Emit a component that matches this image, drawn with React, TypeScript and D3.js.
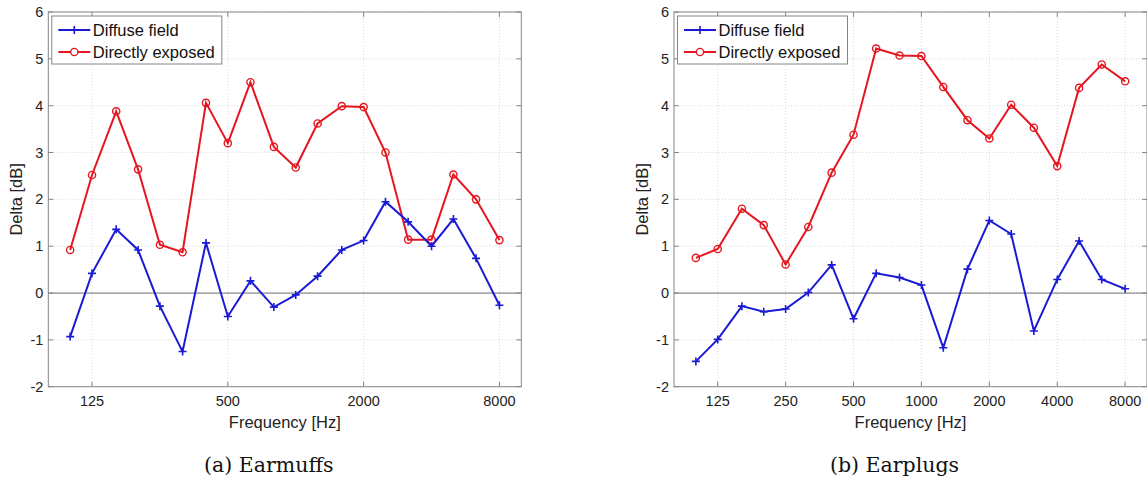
import * as d3 from "d3";

// third-octave band centres
const freqs = [100, 125, 160, 200, 250, 315, 400, 500, 630, 800, 1000, 1250, 1600, 2000, 2500, 3150, 4000, 5000, 6300, 8000];

const earmuffsDiffuse = [-0.93, 0.42, 1.36, 0.92, -0.28, -1.25, 1.07, -0.5, 0.26, -0.3, -0.04, 0.36, 0.92, 1.12, 1.95, 1.52, 1.0, 1.58, 0.74, -0.26];
const earmuffsDirect = [0.92, 2.52, 3.88, 2.64, 1.03, 0.87, 4.06, 3.2, 4.5, 3.12, 2.68, 3.62, 3.99, 3.97, 3.0, 1.14, 1.14, 2.53, 2.0, 1.13];

const earplugsDiffuse = [-1.46, -0.99, -0.28, -0.4, -0.34, 0.01, 0.6, -0.55, 0.42, 0.33, 0.17, -1.17, 0.51, 1.55, 1.26, -0.81, 0.29, 1.11, 0.29, 0.09];
const earplugsDirect = [0.75, 0.94, 1.8, 1.45, 0.61, 1.41, 2.57, 3.38, 5.22, 5.07, 5.06, 4.4, 3.69, 3.3, 4.02, 3.53, 2.71, 4.38, 4.88, 4.52];

const earmuffsTicks = [125, 500, 2000, 8000];
const earplugsTicks = [125, 250, 500, 1000, 2000, 4000, 8000];
const yTicks = [-2, -1, 0, 1, 2, 3, 4, 5, 6];

const BLUE = "#1a1ad6";
const RED = "#e5161f";
const SANS = "'Liberation Sans', Arial, Helvetica, sans-serif";
const SERIF = "'DejaVu Serif', 'Liberation Serif', serif";

const W = 1147;
const H = 477;
const top = 12;
const bottom = 386.7;
const boxW = 473;

function Panel({ left, ticks, diffuse, direct, caption }) {
  const x = d3.scaleLog().domain([80, 10000]).range([left, left + boxW]);
  const y = d3.scaleLinear().domain([-2, 6]).range([bottom, top]);
  const line = d3
    .line<number>()
    .x((_, i) => x(freqs[i]))
    .y((d) => y(d));
  const right = left + boxW;
  const midX = left + boxW / 2;

  return (
    <g>
      <rect x={left} y={top} width={boxW} height={bottom - top} fill="#fff" />
      {/* grid */}
      {ticks.map((t) => (
        <line key={"gx" + t} x1={x(t)} x2={x(t)} y1={top} y2={bottom} stroke="#cfcfcf" strokeWidth={0.8} strokeDasharray="1,2" />
      ))}
      {yTicks.map((t) => (
        <line key={"gy" + t} x1={left} x2={right} y1={y(t)} y2={y(t)} stroke="#cfcfcf" strokeWidth={0.8} strokeDasharray="1,2" />
      ))}
      {/* zero line */}
      <line x1={left} x2={right} y1={y(0)} y2={y(0)} stroke="#8c8c8c" strokeWidth={1.3} />
      {/* box */}
      <rect x={left} y={top} width={boxW} height={bottom - top} fill="none" stroke="#858585" strokeWidth={1} />
      {/* tick marks */}
      {ticks.map((t) => (
        <g key={"tx" + t}>
          <line x1={x(t)} x2={x(t)} y1={bottom} y2={bottom - 5} stroke="#858585" />
          <line x1={x(t)} x2={x(t)} y1={top} y2={top + 5} stroke="#858585" />
          <text x={x(t)} y={405.5} textAnchor="middle" fontFamily={SANS} fontSize={14.5} fill="#222">
            {t}
          </text>
        </g>
      ))}
      {yTicks.map((t) => (
        <g key={"ty" + t}>
          <line x1={left} x2={left + 5} y1={y(t)} y2={y(t)} stroke="#858585" />
          <line x1={right} x2={right - 5} y1={y(t)} y2={y(t)} stroke="#858585" />
          <text x={left - 5} y={y(t) + 5} textAnchor="end" fontFamily={SANS} fontSize={14.5} fill="#222">
            {t}
          </text>
        </g>
      ))}
      {/* series */}
      <path d={line(direct) ?? ""} fill="none" stroke={RED} strokeWidth={2} />
      {direct.map((d, i) => (
        <circle key={"r" + i} cx={x(freqs[i])} cy={y(d)} r={3.6} fill="none" stroke={RED} strokeWidth={1.4} />
      ))}
      <path d={line(diffuse) ?? ""} fill="none" stroke={BLUE} strokeWidth={2} />
      {diffuse.map((d, i) => (
        <path key={"b" + i} d={`M${x(freqs[i]) - 4},${y(d)}h8M${x(freqs[i])},${y(d) - 4}v8`} stroke={BLUE} strokeWidth={1.6} />
      ))}
      {/* legend */}
      <rect x={left + 3.5} y={16} width={170} height={48} fill="#fff" stroke="#858585" strokeWidth={1} />
      <line x1={left + 10} x2={left + 42} y1={30} y2={30} stroke={BLUE} strokeWidth={2} />
      <path d={`M${left + 22},30h8M${left + 26},26v8`} stroke={BLUE} strokeWidth={1.6} />
      <text x={left + 44.5} y={35.8} fontFamily={SANS} fontSize={16.5} fill="#111">
        Diffuse field
      </text>
      <line x1={left + 10} x2={left + 42} y1={52} y2={52} stroke={RED} strokeWidth={2} />
      <circle cx={left + 26} cy={52} r={3.6} fill="#fff" stroke={RED} strokeWidth={1.4} />
      <text x={left + 44.5} y={57.8} fontFamily={SANS} fontSize={16.5} fill="#111">
        Directly exposed
      </text>
      {/* axis labels */}
      <text x={midX} y={427.5} textAnchor="middle" fontFamily={SANS} fontSize={16.5} fill="#222">
        Frequency [Hz]
      </text>
      <text
        transform={`translate(${left - 26},${(top + bottom) / 2}) rotate(-90)`}
        textAnchor="middle"
        fontFamily={SANS}
        fontSize={16.5}
        fill="#222"
      >
        Delta [dB]
      </text>
      <text x={midX - 16} y={471.5} textAnchor="middle" fontFamily={SERIF} fontSize={20.5} fill="#111">
        {caption}
      </text>
    </g>
  );
}

export default function App() {
  return (
    <svg
      width={W}
      height={H}
      viewBox={`0 0 ${W} ${H}`}
      style={{ position: "absolute", left: 0, top: 0, background: "#fff" }}
    >
      <rect width={W} height={H} fill="#fff" />
      <Panel left={48.3} ticks={earmuffsTicks} diffuse={earmuffsDiffuse} direct={earmuffsDirect} caption="(a) Earmuffs" />
      <Panel left={674} ticks={earplugsTicks} diffuse={earplugsDiffuse} direct={earplugsDirect} caption="(b) Earplugs" />
    </svg>
  );
}
